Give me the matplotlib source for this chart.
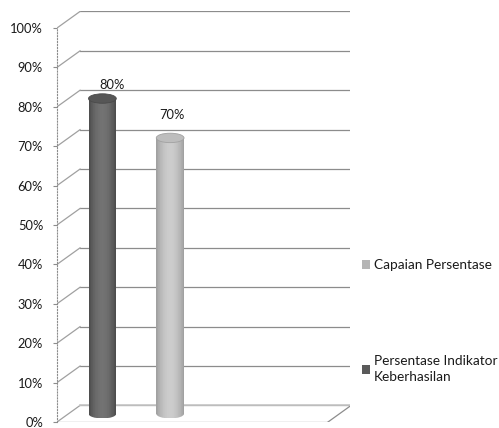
import numpy as np
import matplotlib
matplotlib.use("Agg")
import matplotlib.pyplot as plt
from matplotlib.patches import Ellipse, Patch

plt.rcParams['font.family'] = ['Lato', 'DejaVu Sans']

# series values (percent)
series_names = ["Persentase Indikator Keberhasilan", "Capaian Persentase"]
series_values = [80, 70]
series_pos = [0, 1]
ticks = list(range(0, 101, 10))
tick_labels = [f"{t}%" for t in ticks]

# oblique depth of the box, in data units
DX, DY = 0.34, 4.2
BAR_W = 0.41
ELL_H = 2.4
TXT = "#1a1a1a"

fig = plt.figure(figsize=(4.99, 4.28), dpi=100)
ax = fig.add_axes([57 / 499, 6 / 428, 293 / 499, 411 / 428])
ax.set_xlim(-0.5, -0.5 + 293 / 67.75)
ax.set_ylim(0, 411 / 3.94)

grid_c = "#8c8c8c"
# back wall gridlines and left wall diagonals
for v in ticks:
    ax.plot([-0.5 + DX, 3.5 + DX], [v + DY, v + DY], color=grid_c, lw=0.9, zorder=1)
    ax.plot([-0.5, -0.5 + DX], [v, v + DY], color="#a0a0a0", lw=0.9, zorder=1)
# floor
ax.plot([-0.5, 3.5], [0, 0], color=grid_c, lw=0.9, zorder=1)
ax.plot([3.5, 3.5 + DX], [0, DY], color=grid_c, lw=0.9, zorder=1)
ax.plot([-0.5 + DX, 3.5 + DX], [DY, DY], color="#c8c8c8", lw=1.2, zorder=1)


def shade(lo, hi, n):
    t = np.linspace(0, 1, n)
    prof = np.clip(np.sin(np.pi * (t * 0.9 + 0.05)) ** 0.8, 0, 1)
    return [str(lo + (hi - lo) * p) for p in prof]


def cylinder(x, value, lo, hi, top_c):
    xc = x + DX / 2
    base = DY / 2
    top = value + DY / 2
    n = 40
    sw = BAR_W / n
    xs = xc - BAR_W / 2 + (np.arange(n) + 0.5) * sw
    cols = shade(lo, hi, n)
    ax.bar(xs, top - base, width=sw, bottom=base, color=cols, lw=0, zorder=3)
    # rounded bottom
    bot = Ellipse((xc, base), BAR_W, ELL_H, facecolor="none", edgecolor="none")
    ax.add_patch(bot)
    bars = ax.bar(xs, ELL_H, width=sw, bottom=base - ELL_H / 2, color=cols, lw=0, zorder=2.9)
    for b in bars:
        b.set_clip_path(bot)
    ax.add_patch(Ellipse((xc, top), BAR_W, ELL_H, facecolor=top_c,
                         edgecolor=str(lo + 0.05), lw=0.6, zorder=4))


cylinder(series_pos[0], series_values[0], 0.24, 0.45, "#565656")
cylinder(series_pos[1], series_values[1], 0.58, 0.80, "#bdbdbd")

# data labels
label_off = [(10, 8), (2, 17)]
for x, v, off in zip(series_pos, series_values, label_off):
    ax.annotate(f"{v}%", (x + DX / 2, v + DY / 2), xytext=off,
                textcoords="offset pixels", ha="center", va="bottom",
                fontsize=9.3, color=TXT, zorder=5)

# front left axis
for s in ["top", "right", "bottom"]:
    ax.spines[s].set_visible(False)
ax.spines["left"].set_bounds(0, 100)
ax.spines["left"].set_linestyle(":")
ax.spines["left"].set_color(grid_c)
ax.set_yticks(ticks)
ax.set_yticklabels(tick_labels)
ax.tick_params(axis="y", length=3, color=grid_c, labelsize=9.3,
               labelcolor=TXT, pad=7)
ax.set_xticks([])
ax.patch.set_alpha(0)

handles = [Patch(facecolor="#b5b5b5", edgecolor="none"),
           Patch(facecolor="#5a5a5a", edgecolor="none")]
labels = ["Capaian Persentase", "Persentase Indikator\nKeberhasilan"]
leg = fig.legend(handles, labels, loc="upper left", bbox_to_anchor=(362 / 499, 1 - 259 / 428),
                 frameon=False, fontsize=9.8, handlelength=0.6, handleheight=0.6,
                 handletextpad=0.25, labelspacing=6.2, borderpad=0, borderaxespad=0,
                 labelcolor=TXT)
leg.get_texts()[1].set_linespacing(1.35)

fig.savefig("out.png", dpi=100, facecolor="white")
